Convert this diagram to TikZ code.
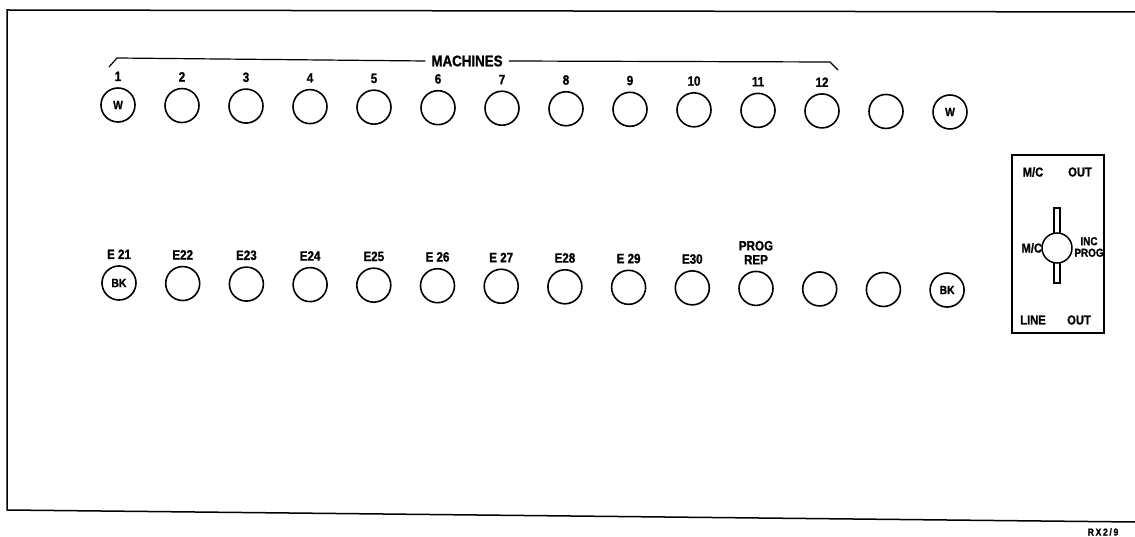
\documentclass[tikz,border=0pt]{standalone}
\usepackage{fontspec}
\setmainfont{Liberation Sans}[FakeStretch=0.86,BoldFeatures={FakeBold=1.2}]
\begin{document}
\begin{tikzpicture}[x=1pt,y=-1pt,
  sock/.style={circle,draw,line width=1.6pt,minimum size=34pt,inner sep=0pt,font=\fontsize{12}{12}\selectfont\bfseries},
  lab/.style={font=\fontsize{13.5}{14}\selectfont\bfseries,inner sep=0pt,anchor=south,align=center},
  ptxt/.style={font=\fontsize{13}{13}\selectfont\bfseries,inner sep=0pt},
  frame/.style={line width=1.5pt},
  thin/.style={line width=1.2pt}]
\useasboundingbox (0,0) rectangle (1135,537);
% outer frame
\coordinate (ftr) at (1135,12);
\coordinate (ftl) at (7,10);
\coordinate (fbl) at (7,510);
\coordinate (fbr) at (1135,522);
\draw[frame] (ftr) -- (ftl) -- (fbl) -- (fbr);
\node[font=\fontsize{10}{10}\selectfont\bfseries,inner sep=0pt] (rx) at (1103,532) {R\,X\,2\,/\,9};
% top row
\foreach \i/\t in {1/W,2/,3/,4/,5/,6/,7/,8/,9/,10/,11/,12/,13/,14/W} {
  \pgfmathsetmacro\x{118+64*(\i-1)}
  \pgfmathsetmacro\y{105+(\x-118)*0.0084}
  \node[sock] (t\i) at (\x,\y) {\t};
}
\foreach \i in {1,...,12} {
  \node[lab] (lt\i) at ([yshift=6pt]t\i.north) {\i};
}
% bottom row
\foreach \i/\t in {1/BK,2/,3/,4/,5/,6/,7/,8/,9/,10/,11/,12/,13/,14/BK} {
  \pgfmathsetmacro\x{119+63.7*(\i-1)}
  \pgfmathsetmacro\y{283+(\x-119)*0.0085}
  \node[sock] (b\i) at (\x,\y) {\t};
}
\foreach \i/\t in {1/E 21,2/E22,3/E23,4/E24,5/E25,6/E 26,7/E 27,8/E28,9/E 29,10/E30,11/PROG\\REP} {
  \node[lab] (lb\i) at ([yshift=6pt]b\i.north) {\t};
}
% MACHINES bracket
\node[font=\fontsize{15.5}{16}\selectfont\bfseries,inner sep=0pt] (mach) at (467,61) {MACHINES};
\coordinate (bl0) at (109,67);
\coordinate (bl1) at (117,58);
\coordinate (br1) at (830,62);
\coordinate (br0) at (838,70);
\draw[thin] (bl0) -- (bl1) -- ([xshift=-6pt]mach.west);
\draw[thin] ([xshift=6pt]mach.east) -- (br1) -- (br0);
% switch panel
\node[draw,line width=1.5pt,minimum width=92pt,minimum height=178pt,inner sep=0pt] (panel) at (1058,244) {};
\node[draw,fill=white,line width=1.3pt,minimum width=6pt,minimum height=75pt,inner sep=0pt] (slot) at (1057,245.5) {};
\node[circle,draw,fill=white,line width=1.5pt,minimum size=30pt,inner sep=0pt] (knob) at (1057,248) {};
\node[ptxt] (mco) at (1033,172) {M/C};
\node[ptxt] (out1) at (1080,172) {OUT};
\node[ptxt] (line) at (1033,320) {LINE};
\node[ptxt] (out2) at (1079,320) {OUT};
\node[ptxt,anchor=east] (mcl) at ([xshift=1pt]knob.west) {M/C};
\node[ptxt,align=center,font=\fontsize{11.5}{11.5}\selectfont\bfseries] (inc) at (1089,247) {INC\\PROG};
\end{tikzpicture}
\end{document}
